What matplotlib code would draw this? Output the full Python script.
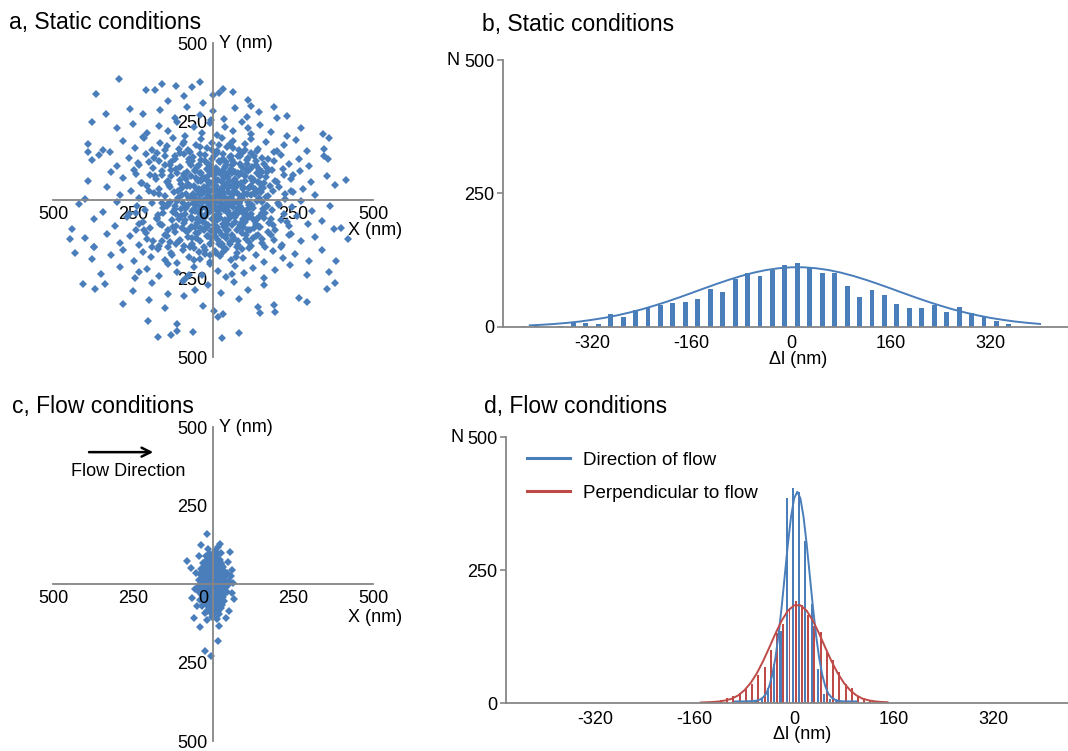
import numpy as np
import matplotlib
matplotlib.use('Agg')
import matplotlib.pyplot as plt
from matplotlib.lines import Line2D

plt.rcParams['font.family'] = ['Liberation Sans', 'DejaVu Sans']

BLUE = '#4a7ebb'
RED = '#be4b48'
GREY = '#868686'

# ---- panel a: particle positions, static conditions (nm) ----
static_xy = [
    # 0..50
    (-400, 3), (-330, 41), (-290, 17), (-255, 29), (-230, 8), (-205, 46), (-185, 22), (-168, 35), (-150, 12),
    (-136, 49), (-122, 27), (-108, 5), (-96, 38), (-84, 19), (-72, 44), (-61, 14), (-50, 31), (-40, 1),
    (-30, 25), (-20, 40), (-10, 9), (-2, 33), (6, 48), (14, 16), (22, 21), (30, 43), (38, 6), (47, 37),
    (56, 11), (65, 28), (75, 47), (85, 2), (95, 34), (106, 18), (118, 45), (130, 24), (143, 7), (157, 39),
    (172, 13), (188, 30), (206, 42), (226, 4), (250, 26), (280, 36), (320, 15), (380, 49), (-45, 20),
    (-15, 10), (10, 32), (35, 23), (60, 45), (90, 3), (112, 38), (150, 27),
    # -50..0
    (-420, -12), (-345, -37), (-300, -5), (-262, -44), (-238, -20), (-212, -31), (-190, -8), (-172, -47),
    (-156, -26), (-140, -14), (-126, -39), (-113, -3), (-100, -29), (-88, -45), (-77, -17), (-66, -34),
    (-55, -6), (-44, -41), (-34, -22), (-24, -49), (-14, -11), (-5, -36), (3, -1), (11, -27), (19, -43),
    (27, -15), (36, -32), (44, -7), (53, -48), (62, -21), (71, -38), (81, -9), (91, -30), (102, -46),
    (114, -16), (126, -25), (139, -4), (153, -42), (168, -19), (184, -33), (202, -10), (222, -45),
    (246, -23), (274, -2), (310, -35), (365, -18), (-60, -28), (-28, -2), (0, -20), (24, -8), (48, -40),
    (78, -24), (120, -44), (-118, -18),
    # 50..100
    (-390, 62), (-318, 88), (-280, 71), (-248, 96), (-222, 55), (-198, 80), (-178, 67), (-160, 92),
    (-144, 58), (-130, 75), (-116, 99), (-103, 63), (-91, 84), (-79, 52), (-68, 77), (-57, 94), (-46, 60),
    (-36, 86), (-26, 70), (-16, 97), (-7, 54), (2, 79), (11, 65), (20, 90), (29, 57), (38, 82), (47, 72),
    (57, 98), (67, 61), (77, 87), (88, 53), (99, 76), (111, 93), (124, 66), (137, 85), (151, 51), (166, 73),
    (183, 95), (201, 59), (221, 81), (244, 68), (271, 91), (305, 56), (355, 78), (415, 64), (-240, 84),
    (-85, 66), (15, 94), (70, 68), (140, 57),
    # -100..-50
    (-440, -92), (-372, -61), (-305, -84), (-268, -55), (-242, -97), (-218, -70), (-196, -88), (-176, -58),
    (-158, -79), (-142, -95), (-128, -64), (-114, -83), (-101, -52), (-89, -74), (-77, -98), (-66, -60),
    (-55, -86), (-45, -68), (-35, -93), (-25, -54), (-15, -78), (-6, -99), (4, -65), (13, -87), (22, -57),
    (31, -76), (41, -96), (50, -62), (60, -81), (70, -53), (81, -90), (92, -71), (104, -59), (117, -94),
    (130, -67), (144, -85), (159, -56), (176, -73), (194, -97), (214, -63), (237, -82), (263, -51),
    (296, -77), (340, -66), (400, -88), (-230, -75), (-50, -72), (8, -90), (95, -85), (180, -60),
    # 100..150
    (-377, 128), (-357, 142), (-300, 108), (-262, 134), (-235, 117), (-210, 146), (-188, 103), (-168, 125),
    (-150, 139), (-133, 112), (-118, 131), (-103, 106), (-89, 148), (-76, 121), (-63, 136), (-50, 104),
    (-38, 127), (-26, 144), (-14, 115), (-3, 132), (8, 101), (19, 123), (30, 147), (41, 110), (53, 137),
    (65, 119), (78, 141), (91, 105), (105, 129), (120, 149), (135, 113), (152, 135), (170, 102), (190, 124),
    (212, 143), (238, 116), (268, 131), (300, 108), (347, 140), (360, 132), (-200, 122), (60, 128),
    # -150..-100
    (-447, -123), (-399, -120), (-371, -150), (-330, -108), (-290, -137), (-258, -115), (-232, -144),
    (-208, -104), (-187, -129), (-168, -147), (-150, -111), (-134, -135), (-119, -102), (-104, -126),
    (-90, -145), (-77, -117), (-64, -139), (-52, -106), (-40, -131), (-28, -149), (-16, -114), (-5, -137),
    (6, -103), (17, -128), (29, -146), (40, -110), (52, -133), (64, -119), (77, -142), (90, -105),
    (104, -124), (119, -148), (135, -113), (152, -136), (171, -101), (192, -127), (216, -143), (243, -109),
    (275, -132), (320, -118), (378, -93), (423, -123),
    # 150..200
    (-390, 179), (-390, 154), (-345, 160), (-322, 154), (-280, 188), (-245, 167), (-215, 196), (-190, 158),
    (-166, 183), (-145, 171), (-126, 199), (-107, 162), (-89, 186), (-71, 152), (-54, 175), (-37, 193),
    (-20, 165), (-4, 181), (12, 156), (28, 197), (45, 170), (62, 189), (80, 160), (99, 178), (119, 195),
    (141, 164), (165, 185), (192, 153), (222, 176), (260, 190), (293, 156), (347, 161), (363, 196),
    # -200..-150
    (-431, -168), (-379, -189), (-371, -150), (-320, -175), (-280, -158), (-248, -195), (-220, -166),
    (-195, -183), (-172, -155), (-151, -191), (-131, -170), (-112, -199), (-94, -160), (-76, -181),
    (-59, -153), (-42, -187), (-25, -172), (-9, -196), (7, -162), (23, -179), (40, -157), (57, -192),
    (75, -168), (94, -185), (114, -154), (136, -176), (160, -198), (187, -163), (218, -186), (255, -171),
    (300, -193), (384, -194), (340, -160),
    # 200..250
    (-377, 249), (-300, 228), (-250, 241), (-205, 212), (-170, 236), (-140, 219), (-112, 247), (-86, 205),
    (-60, 231), (-35, 214), (-10, 244), (14, 208), (38, 233), (63, 221), (90, 248), (118, 210), (148, 238),
    (182, 216), (199, 262), (230, 203), (274, 228), (343, 211), (-220, 202), (110, 230),
    # -250..-200
    (-350, -235), (-290, -212), (-245, -247), (-205, -220), (-170, -241), (-140, -205), (-112, -229),
    (-86, -250), (-60, -214), (-34, -238), (-9, -203), (16, -226), (42, -244), (68, -209), (96, -232),
    (126, -217), (158, -248), (195, -224), (240, -207), (295, -240), (363, -229), (-230, -228), (60, -236),
    (-75, -240),
    # outer ring
    (-335, 273), (-220, 275), (-165, 288), (-120, 262), (-80, 296), (-40, 270), (0, 285), (35, 258),
    (70, 292), (105, 266), (145, 281), (191, 297), (230, 268), (-260, 290), (-5, 255), (120, 300),
    (-405, -269), (-369, -282), (-337, -269), (-250, -290), (-190, -265), (-140, -298), (-95, -258),
    (-55, -285), (-15, -270), (25, -295), (65, -262), (110, -288), (160, -272), (270, -311), (355, -282),
    (381, -263),
    (-366, 337), (-209, 349), (-180, 349), (-140, 315), (-90, 330), (-30, 310), (1, 334), (19, 342),
    (62, 345), (110, 318),
    (-280, -330), (-200, -318), (-150, -345), (-90, -305), (-30, -338), (3, -354), (80, -315), (191, -335),
    (295, -324), (140, -340),
    (-294, 384), (-117, 362), (-67, 360), (-160, 370), (-40, 375), (30, 355),
    (-204, -385), (-113, -396), (16, -372), (32, -364), (147, -361), (194, -357),
    (-173, -435), (-131, -431), (-111, -417), (-61, -420), (27, -440), (82, -425),
    # dense core
    (-170, 20), (-155, -40), (-140, 60), (-125, -85), (-110, 30), (-95, -10), (-80, 90), (-70, -55),
    (-60, 45), (-52, -120), (-45, 110), (-38, -30), (-30, 70), (-22, -75), (-15, 15), (-8, -140), (0, 55),
    (6, -50), (12, 95), (18, -100), (25, 5), (31, 130), (38, -65), (45, 50), (52, -15), (58, 85),
    (65, -125), (72, 25), (79, -40), (86, 115), (93, -85), (100, 60), (108, -5), (116, 100), (124, -60),
    (132, 35), (140, -110), (148, 75), (156, -30), (165, 10), (-165, -75), (-150, 110), (-135, -5),
    (-120, 140), (-105, -60), (-92, 75), (-85, -100), (-74, 5), (-65, 125), (-56, -35), (-48, 65),
    (-41, -90), (-33, 20), (-26, -160), (-19, 100), (-11, -20), (-4, 160), (3, -80), (9, 30), (16, -35),
    (22, 120), (28, -140), (34, 70), (41, -10), (48, -95), (55, 140), (62, 20), (69, -70), (76, 55),
    (83, -20), (90, 150), (97, -45), (104, 95), (112, -135), (120, 15), (128, -90), (136, 125), (145, -55),
    (153, 40), (162, -150), (170, 90), (-175, 150), (-160, -130), (-145, -20), (-130, 95), (-115, -140),
    (-100, 50), (-88, -25), (-78, 160), (-66, -85), (-57, 5), (-49, -60), (-42, 145), (-35, -5), (-28, 40),
    (-20, -115), (-11, 80), (-3, -60), (4, 10), (10, -170), (17, 65), (24, -25), (32, 95), (40, -120),
    (47, 25), (54, -55), (61, 110), (68, -5), (75, -150), (82, 80), (89, -30), (96, 20), (103, -110),
    (110, 135), (118, -20), (126, 60), (134, -75), (143, 100), (152, -5), (160, 55),
    (-230, 110), (-215, -95), (-200, 30), (-190, -150), (-180, 75), (-160, -10), (-150, 160), (-145, -115),
    (-135, 40), (-128, -175), (-120, -30), (-112, 85), (-106, -130), (-98, 15), (-93, 180), (-86, -65),
    (-80, 45), (-73, -150), (-68, 110), (-62, -10), (-58, -190), (-53, 70), (-47, -105), (-43, 35),
    (-39, 170), (-34, -50), (-29, 0), (-24, 125), (-18, -85), (-13, 55), (-9, -175), (-5, 95), (-1, -30),
    (3, 140), (7, -115), (11, 45), (15, -60), (19, 175), (23, -20), (27, 80), (31, -165), (36, 10),
    (40, 120), (44, -75), (49, 60), (53, -140), (57, 5), (62, 165), (66, -45), (70, 90), (75, -95),
    (80, -10), (85, 140), (90, -155), (95, 40), (100, -70), (106, 115), (112, -25), (118, 70), (124, -120),
    (131, 20), (138, 155), (146, -85), (154, 90), (163, -40), (172, 130), (182, -110), (193, 60),
    (205, -15), (218, 100), (232, -70), (245, 30),
    (-240, -40), (-225, 55), (-205, -125), (-185, 135), (-175, -60), (-158, 80), (-142, -150), (-132, 120),
    (-117, -45), (-103, 150), (-96, -90), (-83, -25), (-76, 130), (-64, -120), (-55, 95), (-45, -165),
    (-36, 60), (-27, -95), (-17, 30), (-7, -120), (1, 80), (8, -5), (14, 150), (20, -140), (26, 35),
    (33, -85), (39, 105), (46, -35), (52, 180), (59, -110), (67, 60), (73, -180), (81, 15), (88, 85),
    (94, -60), (101, 160), (109, -95), (115, 40), (122, -15), (129, 140), (137, -60), (144, 30),
    (152, -125), (161, 115), (170, -20), (179, 45), (188, -80), (200, 155), (212, -150), (225, 20),
    (238, -110), (250, 80),
    (-20, -45), (-12, 25), (-2, -10), (6, 60), (13, -65), (21, 10), (29, -110), (35, 40), (42, -25),
    (50, 90), (56, -50), (63, -10), (71, 40), (78, -130), (86, -80), (92, 5), (99, -35), (107, 20),
    (114, -55), (121, 105), (-70, -85), (-62, 20), (-50, -15), (-41, 85), (-32, -70), (-23, -25),
    (-16, 60), (-8, 110), (0, -95), (10, 85),
]

# ---- panel c: particle positions, flow conditions (nm) ----
flow_xy = [
    (-45, 12), (-36, 3), (-30, 17), (-25, 8), (-21, 14), (-18, 1), (-15, 19), (-12, 6), (-9, 11), (-7, 16),
    (-5, 4), (-3, 13), (-1, 9), (1, 18), (3, 2), (5, 15), (7, 7), (9, 20), (11, 10), (13, 5), (16, 16),
    (19, 3), (22, 12), (26, 18), (30, 7), (35, 14), (42, 2), (50, 10), (-10, 0), (14, 13),
    (-48, -8), (-38, -15), (-31, -3), (-26, -19), (-22, -10), (-19, -6), (-16, -17), (-13, -1), (-10, -12),
    (-8, -20), (-6, -5), (-4, -14), (-2, -9), (0, -18), (2, -2), (4, -11), (6, -16), (8, -4), (10, -13),
    (12, -7), (15, -19), (18, -1), (21, -10), (25, -15), (29, -6), (34, -18), (40, -9), (47, -3),
    (-14, -11), (17, -14),
    (-40, 33), (-31, 24), (-25, 38), (-20, 28), (-16, 21), (-12, 35), (-9, 26), (-6, 40), (-3, 30), (0, 23),
    (3, 37), (6, 27), (9, 34), (12, 22), (15, 39), (18, 29), (22, 25), (26, 36), (31, 31), (37, 23),
    (45, 34), (-14, 29), (8, 31), (-1, 38),
    (-43, -27), (-33, -36), (-26, -22), (-21, -31), (-17, -39), (-13, -25), (-10, -34), (-7, -21),
    (-4, -29), (-1, -37), (2, -24), (5, -32), (8, -40), (11, -27), (14, -35), (17, -22), (21, -30),
    (25, -38), (30, -26), (36, -33), (44, -24), (-15, -30), (9, -35), (0, -21),
    (-38, 47), (-27, 55), (-20, 43), (-14, 58), (-9, 50), (-4, 41), (0, 53), (4, 46), (8, 59), (12, 44),
    (17, 52), (22, 48), (28, 57), (35, 42), (-2, 60), (15, 55),
    (-40, -52), (-29, -44), (-21, -58), (-15, -47), (-10, -55), (-5, -42), (-1, -50), (3, -59), (7, -45),
    (11, -53), (15, -41), (20, -57), (26, -48), (34, -54), (-8, -49), (12, -60),
    (-30, 68), (-18, 75), (-10, 63), (-3, 79), (4, 70), (11, 62), (18, 77), (26, 66), (-6, 72),
    (-33, -70), (-21, -64), (-12, -77), (-4, -67), (3, -74), (10, -62), (18, -79), (28, -68), (0, -80),
    (-22, 88), (-8, 96), (2, 84), (12, 92), (24, 99),
    (-25, -92), (-10, -85), (0, -98), (9, -88), (20, -95),
    (-14, 112), (5, 105), (16, 118), (-18, -115), (-2, -104), (12, -110),
    (55, 25), (-55, -15), (58, -30), (-52, 35), (60, 45), (-50, -70), (48, 70), (-45, 90), (50, -85),
    (-19, 160), (-38, 124), (22, 129), (52, 103), (-81, 73), (-69, 50), (62, 3), (67, -49), (-67, -44),
    (-60, -107), (-40, -138), (20, -133), (17, -180), (-25, -212), (-6, -230), (41, -109),
    (-20, 5), (-16, -25), (-12, 45), (-9, -55), (-6, 15), (-3, -35), (0, 30), (3, -5), (6, 50), (9, -45),
    (12, 20), (15, -25), (18, 40), (21, -10), (24, 65), (-24, -45), (-18, 30), (-13, -10), (-8, 70),
    (-4, -70), (1, 5), (5, -30), (10, 60), (14, -60), (19, 0), (23, -40), (27, 45), (-28, 10), (-22, 55),
    (-17, -60), (-11, -30), (-6, 40), (-2, -45), (2, 25), (7, -15), (11, 85), (16, -85), (20, 30),
    (25, -20), (30, 55), (-26, -15), (-20, 75), (-15, 15), (-10, -80), (-5, 55), (0, -60), (4, 45),
    (8, -25), (13, 5), (17, -45), (22, 75), (28, -55), (33, 10), (-32, -30), (-27, 35), (-11, 95),
    (-4, -95), (6, -85), (14, 100), (24, -75), (-19, -85), (-7, 25), (3, -15), (9, 10), (-1, 65), (17, 65),
    (-14, -40), (26, 20), (-23, -5), (31, -40), (-30, 50), (12, -70), (-8, -10), (19, -65), (-16, 85),
]

# ---- panel b: displacement histogram, static ----
static_bins = [-430, -410, -390, -370, -350, -330, -310, -290, -270, -250, -230, -210, -190, -170,
               -150, -130, -110, -90, -70, -50, -30, -10, 10, 30, 50, 70, 90, 110, 130, 150, 170,
               190, 210, 230, 250, 270, 290, 310, 330, 350]
static_counts = [2, 2, 0, 2, 8, 8, 6, 25, 19, 31, 37, 41, 44, 46, 52, 71, 65, 90, 101, 96, 107, 117,
                 119, 111, 101, 102, 77, 57, 70, 59, 43, 36, 35, 41, 28, 37, 26, 19, 11, 5]
static_fit_x = [-420, -400, -380, -360, -340, -320, -300, -280, -260, -240, -220, -200, -180, -160,
                -140, -120, -100, -80, -60, -40, -20, 0, 20, 40, 60, 80, 100, 120, 140, 160, 180,
                200, 220, 240, 260, 280, 300, 320, 340, 360, 380, 400]
static_fit_y = [3.0, 4.2, 5.7, 7.7, 10.2, 13.4, 17.1, 21.7, 27.0, 33.0, 39.9, 47.3, 55.3, 63.7, 72.2,
                80.5, 88.4, 95.6, 101.8, 106.7, 110.0, 111.8, 111.8, 110.0, 106.7, 101.8, 95.6, 88.4,
                80.5, 72.2, 63.7, 55.3, 47.3, 39.9, 33.0, 27.0, 21.7, 17.1, 13.4, 10.2, 7.7, 5.7]

# ---- panel d: displacement histograms, flow ----
flow_bins = [-140, -130, -120, -110, -100, -90, -80, -70, -60, -50, -40, -30, -20, -10, 0, 10, 20,
             30, 40, 50, 60, 70, 80, 90, 100, 110, 120, 130, 140]
along_counts = [0, 0, 0, 0, 0, 0, 0, 0, 3, 10, 28, 73, 136, 385, 405, 396, 305, 186, 64, 17, 8, 4,
                0, 0, 0, 0, 0, 0, 0]
perp_counts = [2, 3, 6, 9, 13, 18, 26, 35, 53, 68, 100, 131, 148, 178, 191, 184, 165, 145, 134, 96,
               80, 58, 35, 28, 14, 9, 6, 4, 2]
along_fit_x = [-95, -90, -80, -70, -60, -55, -50, -45, -40, -35, -30, -25, -20, -15, -10, -5, 0, 5,
               10, 15, 20, 25, 30, 35, 40, 45, 50, 55, 60, 65, 70, 75, 80, 90, 100]
along_fit_y = [3, 3, 3, 3.5, 4.5, 6.5, 10.5, 17.4, 31.6, 53.7, 85.9, 128.9, 181.8, 240.8, 299.7,
               350.3, 384.8, 397, 384.8, 350.3, 299.7, 240.8, 181.8, 128.9, 85.9, 53.7, 31.6, 17.4,
               10.5, 6.5, 4.5, 3.5, 3, 3, 3]
perp_fit_x = [-150, -140, -130, -120, -110, -100, -90, -80, -70, -60, -50, -40, -30, -20, -10, 0, 10,
              20, 30, 40, 50, 60, 70, 80, 90, 100, 110, 120, 130, 140, 150]
perp_fit_y = [1, 1.5, 2, 3, 5, 8.1, 14.3, 23.9, 37.6, 55.8, 78.5, 104.2, 130.8, 155.0, 173.6, 183.7,
              183.7, 173.6, 155.0, 130.8, 104.2, 78.5, 55.8, 37.6, 23.9, 14.3, 8.1, 5, 3, 2, 1.5]

scale_ticks = [-500, -250, 250, 500]
scale_labels = ['500', '250', '250', '500']
hist_xticks = [-320, -160, 0, 160, 320]
hist_yticks = [0, 250, 500]

FS = 13

fig = plt.figure(figsize=(10.68, 7.51), dpi=100)


def scatter_axes(rect):
    ax = fig.add_axes(rect)
    ax.patch.set_visible(False)
    ax.set_xlim(-500, 500)
    ax.set_ylim(-500, 500)
    ax.spines['top'].set_visible(False)
    ax.spines['right'].set_visible(False)
    ax.spines['left'].set_position(('data', 0))
    ax.spines['bottom'].set_position(('data', 0))
    for s in ['left', 'bottom']:
        ax.spines[s].set_color(GREY)
        ax.spines[s].set_linewidth(1.3)
    ax.set_xticks(scale_ticks, scale_labels)
    ax.set_yticks(scale_ticks, scale_labels)
    ax.set_xticks([-500, 500], minor=True)
    ax.set_yticks([-500, 500], minor=True)
    ax.tick_params(which='major', length=0, labelsize=FS, pad=4)
    ax.tick_params(which='minor', length=4, width=1.2, color=GREY)
    ax.text(-31, -20, '0', ha='center', va='top', fontsize=FS)
    ax.text(20, 500, 'Y (nm)', ha='left', va='center', fontsize=FS)
    return ax


def hist_axes(rect, xlim):
    ax = fig.add_axes(rect)
    ax.patch.set_visible(False)
    ax.set_xlim(*xlim)
    ax.set_ylim(0, 500)
    ax.spines['top'].set_visible(False)
    ax.spines['right'].set_visible(False)
    for s in ['left', 'bottom']:
        ax.spines[s].set_color(GREY)
        ax.spines[s].set_linewidth(1.3)
    ax.set_xticks(hist_xticks, [str(v) for v in hist_xticks])
    ax.set_yticks(hist_yticks, [str(v) for v in hist_yticks])
    ax.tick_params(axis='x', length=0, pad=6, labelsize=FS)
    ax.tick_params(axis='y', length=4, width=1.2, color=GREY, pad=2, labelsize=FS)
    ax.text(-0.088, 1.0, 'N', transform=ax.transAxes, ha='center', va='center', fontsize=FS)
    ax.text(12, -0.12, 'Δl (nm)', transform=ax.get_xaxis_transform(), ha='center', va='center',
            fontsize=FS)
    return ax


# a
sx, sy = np.array(static_xy).T
ax_a = scatter_axes([0.0496, 0.5246, 0.2996, 0.4181])
ax_a.plot(sx, sy, 'D', ms=3.8, color=BLUE, mew=0, clip_on=False)
ax_a.text(506, -98, 'X (nm)', ha='center', va='center', fontsize=FS)

# c
fx, fy = np.array(flow_xy).T
ax_c = scatter_axes([0.0496, 0.0133, 0.2996, 0.4181])
ax_c.plot(fx, fy, 'D', ms=3.8, color=BLUE, mew=0, clip_on=False)
ax_c.text(506, -107, 'X (nm)', ha='center', va='center', fontsize=FS)
ax_c.annotate('', xy=(-178, 420), xytext=(-396, 420),
              arrowprops=dict(arrowstyle='->', color='black', lw=1.8, mutation_scale=16))
ax_c.text(-264, 358, 'Flow Direction', ha='center', va='center', fontsize=FS)

# b
ax_b = hist_axes([0.471, 0.5646, 0.529, 0.3555], (-463, 445))
ax_b.bar(static_bins, static_counts, width=8, color=BLUE, linewidth=0)
ax_b.plot(static_fit_x, static_fit_y, color=BLUE, lw=1.4)

# d
ax_d = hist_axes([0.4738, 0.0639, 0.5262, 0.3542], (-463, 440))
fb = np.array(flow_bins)
ax_d.bar(fb - 2, along_counts, width=3.5, color=BLUE, linewidth=0)
ax_d.bar(fb + 2.5, perp_counts, width=3.2, color=RED, linewidth=0)
ax_d.plot(along_fit_x, along_fit_y, color=BLUE, lw=1.4)
ax_d.plot(perp_fit_x, perp_fit_y, color=RED, lw=1.4)
handles = [Line2D([], [], color=BLUE, lw=2.2), Line2D([], [], color=RED, lw=2.2)]
ax_d.legend(handles, ['Direction of flow', 'Perpendicular to flow'], loc='upper left',
            bbox_to_anchor=(0.037, 0.945), frameon=False, fontsize=13.5, handlelength=2.3,
            handletextpad=0.7, labelspacing=0.85, borderpad=0, borderaxespad=0)

# panel titles
fig.text(9 / 1068, 1 - 23 / 751, 'a, Static conditions', fontsize=16.5, va='center')
fig.text(482 / 1068, 1 - 25 / 751, 'b, Static conditions', fontsize=16.5, va='center')
fig.text(12 / 1068, 1 - 407 / 751, 'c, Flow conditions', fontsize=16.5, va='center')
fig.text(484 / 1068, 1 - 407 / 751, 'd, Flow conditions', fontsize=16.5, va='center')

fig.savefig('out.png', dpi=100)
